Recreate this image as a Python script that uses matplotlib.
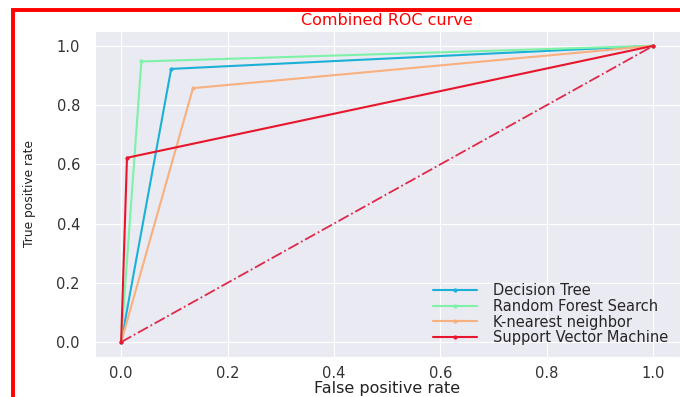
import numpy as np
import matplotlib
matplotlib.use("Agg")
import matplotlib.pyplot as plt
import seaborn as sns
from matplotlib.patches import Rectangle

# ROC points
fpr_dt = [0.0, 0.094, 1.0]
tpr_dt = [0.0, 0.922, 1.0]
fpr_rf = [0.0, 0.038, 1.0]
tpr_rf = [0.0, 0.947, 1.0]
fpr_knn = [0.0, 0.135, 1.0]
tpr_knn = [0.0, 0.857, 1.0]
fpr_svm = [0.0, 0.011, 1.0]
tpr_svm = [0.0, 0.622, 1.0]
diag = [0.0, 1.0]

labels = ["Decision Tree", "Random Forest Search", "K-nearest neighbor", "Support Vector Machine"]
ticks = [0.0, 0.2, 0.4, 0.6, 0.8, 1.0]

sns.set_style("darkgrid")
plt.rcParams['font.family'] = ['DejaVu Sans']

fig = plt.figure(figsize=(6.8, 3.97), dpi=100)
plt.subplots_adjust(left=0.139, right=1.0, bottom=0.101, top=0.922)

plt.plot(fpr_dt, tpr_dt, color="#1bb0d6", marker=".", markersize=4, lw=1.5, label=labels[0])
plt.plot(fpr_rf, tpr_rf, color="#7df2a8", marker=".", markersize=4, lw=1.5, label=labels[1])
plt.plot(fpr_knn, tpr_knn, color="#f8b07e", marker=".", markersize=4, lw=1.5, label=labels[2])
plt.plot(fpr_svm, tpr_svm, color="#e8162c", marker=".", markersize=4, lw=1.5, label=labels[3])
plt.plot(diag, diag, color="#e0284a", ls="-.", lw=1.3)

plt.xlim(-0.05, 1.05)
plt.ylim(-0.05, 1.05)
plt.xticks(ticks, [f"{t:.1f}" for t in ticks], fontsize=10.5)
plt.yticks(ticks, [f"{t:.1f}" for t in ticks], fontsize=10.5)
ax = plt.gca()
ax.tick_params(axis="y", pad=7, colors="#333333")
ax.tick_params(axis="x", pad=3, colors="#333333")
plt.xlabel("False positive rate", fontsize=11.5, color="#222222", labelpad=0)
plt.ylabel("True positive rate", fontsize=8.8, color="#222222", labelpad=15)
plt.title("Combined ROC curve", color="red", fontsize=11.5, pad=4)
plt.legend(loc="lower right", frameon=False, fontsize=10.5, handlelength=3,
           handletextpad=1.1, labelspacing=0.05, borderaxespad=0.4)

# red frame around the screenshot
fig.add_artist(Rectangle((12.5 / 680, -0.1), 1.2, 1.1 - 10 / 397, transform=fig.transFigure,
                         fill=False, edgecolor="red", lw=2.8))

plt.savefig("out.png", dpi=100)
